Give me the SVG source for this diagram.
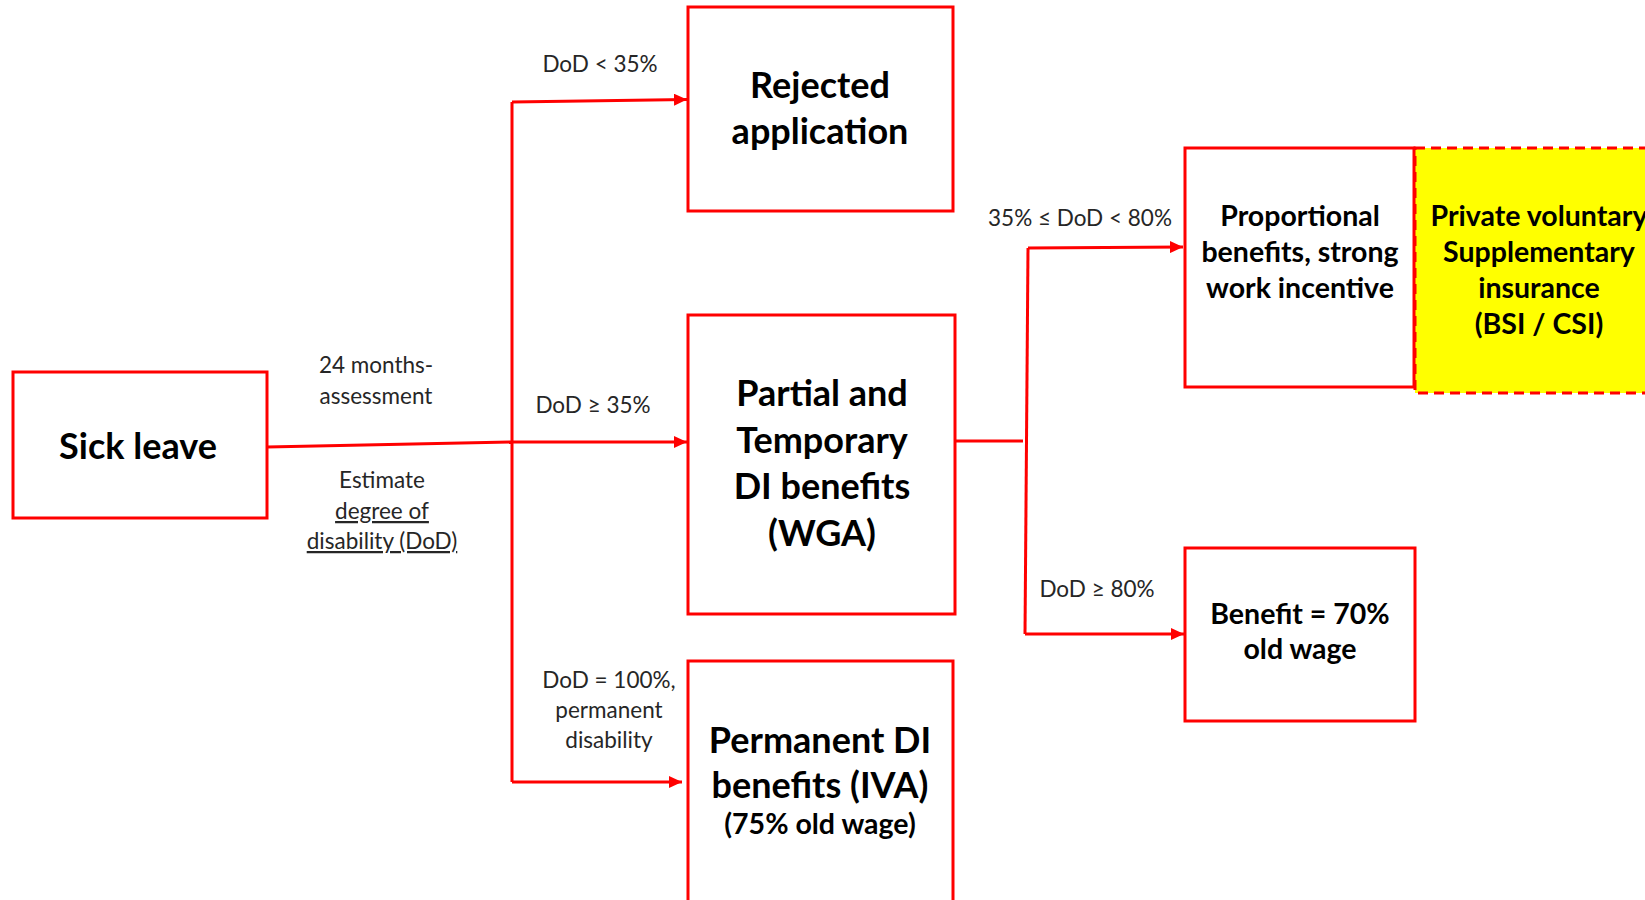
<svg xmlns="http://www.w3.org/2000/svg" width="1645" height="900" viewBox="0 0 1645 900">
<style>
.box{fill:#fff;stroke:#ff0000;stroke-width:3}
.ybox{fill:#ffff00;stroke:#ff0000;stroke-width:3;stroke-dasharray:10 6}
.ln{fill:none;stroke:#ff0000;stroke-width:3}
.lbl{font-family:Lato,"Liberation Sans",sans-serif;font-size:22.5px;fill:#262626;text-anchor:middle}
.big{font-family:Lato,"Liberation Sans",sans-serif;font-weight:bold;font-size:36px;fill:#000;text-anchor:middle}
.mid{font-family:Lato,"Liberation Sans",sans-serif;font-weight:bold;font-size:28.5px;fill:#000;text-anchor:middle}
</style>
<defs>
<marker id="arr" markerUnits="userSpaceOnUse" markerWidth="13" markerHeight="12" refX="13" refY="6" orient="auto">
<path d="M0,0 L13,6 L0,12 z" fill="#ff0000"/>
</marker>
</defs>
<rect width="1645" height="900" fill="#fff"/>
<g id="connectors">
<path class="ln" d="M267,447 L512,442"/>
<path class="ln" d="M512,782 L512,102"/>
<path class="ln" d="M512,102 L687,99.5" marker-end="url(#arr)"/>
<path class="ln" d="M512,442 L687,442" marker-end="url(#arr)"/>
<path class="ln" d="M512,782 L682,782" marker-end="url(#arr)"/>
<path class="ln" d="M955,441 L1023,441"/>
<path class="ln" d="M1028,248 L1025,634"/>
<path class="ln" d="M1028,248 L1183,247" marker-end="url(#arr)"/>
<path class="ln" d="M1025,634 L1184,634" marker-end="url(#arr)"/>
<text class="lbl" x="376" y="373">24 months-</text>
<text class="lbl" x="376" y="404">assessment</text>
<text class="lbl" x="382" y="488">Estimate</text>
<text class="lbl" x="382" y="519" text-decoration="underline">degree of</text>
<text class="lbl" x="382" y="549" text-decoration="underline">disability (DoD)</text>
<text class="lbl" x="600" y="72">DoD &lt; 35%</text>
<text class="lbl" x="593" y="413">DoD ≥ 35%</text>
<text class="lbl" x="609" y="688">DoD = 100%,</text>
<text class="lbl" x="609" y="718">permanent</text>
<text class="lbl" x="609" y="748">disability</text>
<text class="lbl" x="1080" y="226">35% ≤ DoD &lt; 80%</text>
<text class="lbl" x="1097" y="597">DoD ≥ 80%</text>
</g>
<g id="sick-leave">
<rect class="box" x="13" y="372" width="254" height="146"/>
<text class="big" x="138" y="459">Sick leave</text>
</g>
<g id="rejected">
<rect class="box" x="688" y="7" width="265" height="204"/>
<text class="big" x="820" y="98">Rejected</text>
<text class="big" x="820" y="144">application</text>
</g>
<g id="wga">
<rect class="box" x="688" y="315" width="267" height="299"/>
<text class="big" x="822" y="406">Partial and</text>
<text class="big" x="822" y="453">Temporary</text>
<text class="big" x="822" y="499">DI benefits</text>
<text class="big" x="822" y="546">(WGA)</text>
</g>
<g id="iva">
<rect class="box" x="688" y="661" width="265" height="260"/>
<text class="big" x="820" y="753">Permanent DI</text>
<text class="big" x="820" y="798">benefits (IVA)</text>
<text class="mid" x="820" y="834">(75% old wage)</text>
</g>
<g id="private">
<rect class="ybox" x="1415" y="148" width="260" height="245"/>
<text class="mid" x="1539" y="226">Private voluntary</text>
<text class="mid" x="1539" y="262">Supplementary</text>
<text class="mid" x="1539" y="298">insurance</text>
<text class="mid" x="1539" y="334">(BSI / CSI)</text>
</g>
<g id="proportional">
<rect class="box" x="1185" y="148" width="229" height="239"/>
<text class="mid" x="1300" y="226">Proportional</text>
<text class="mid" x="1300" y="262">benefits, strong</text>
<text class="mid" x="1300" y="298">work incentive</text>
</g>
<g id="benefit">
<rect class="box" x="1185" y="548" width="230" height="173"/>
<text class="mid" x="1300" y="624">Benefit = 70%</text>
<text class="mid" x="1300" y="659">old wage</text>
</g>
</svg>
